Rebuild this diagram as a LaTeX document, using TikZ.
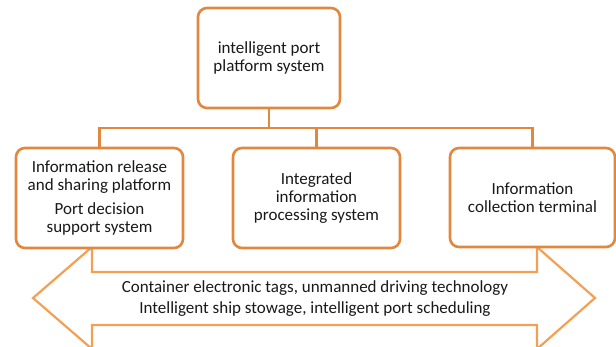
\documentclass[tikz,border=0pt]{standalone}
\usepackage{fontspec}
\setmainfont{Carlito}
\begin{document}
\begin{tikzpicture}[x=1pt,y=-1pt,
  boxc/.style={draw=boxorange, line width=2.6pt, rounded corners=9pt, fill=white,
    inner sep=0pt, align=center, font=\fontsize{17}{18}\selectfont, text=txt},
  conn/.style={draw=boxorange, line width=2.2pt},
  arrowc/.style={draw=arrorange, line width=2.2pt, line join=miter},
  atext/.style={font=\fontsize{17}{21}\selectfont, text=txt, align=center}]
\definecolor{boxorange}{RGB}{226,135,62}
\definecolor{arrorange}{RGB}{244,160,84}
\definecolor{txt}{RGB}{25,25,25}
\useasboundingbox (0,0) rectangle (616,347);
\clip (0,0) rectangle (616,347);
% double arrow
\draw[arrowc] (92,272) -- (92,247) -- (33,298) -- (92,349) -- (92,325)
  -- (537,325) -- (537,349) -- (595,298) -- (537,247) -- (537,272) -- cycle;
\node[atext] (arrtext) at (315,298.5) {Container electronic tags, unmanned driving technology\\Intelligent ship stowage, intelligent port scheduling};
% boxes
\node[boxc, minimum width=142pt, minimum height=100pt] (top) at (269,58) {intelligent port\\platform system};
\node[boxc, minimum width=167pt, minimum height=100pt] (left) at (99.5,198)
  {Information release\\and sharing platform\\[6pt]Port decision\\support system};
\node[boxc, minimum width=167pt, minimum height=100pt] (mid) at (316.5,198)
  {Integrated\\information\\processing system};
\node[boxc, minimum width=165pt, minimum height=99pt] (right) at (532.5,197.5)
  {Information\\collection terminal};
% connectors
\coordinate (j) at (269,128);
\draw[conn] (top.south) -- (j);
\draw[conn] (j) -| (left.north);
\draw[conn] (j) -| (mid.north);
\draw[conn] (j) -| (right.north);
\end{tikzpicture}
\end{document}
